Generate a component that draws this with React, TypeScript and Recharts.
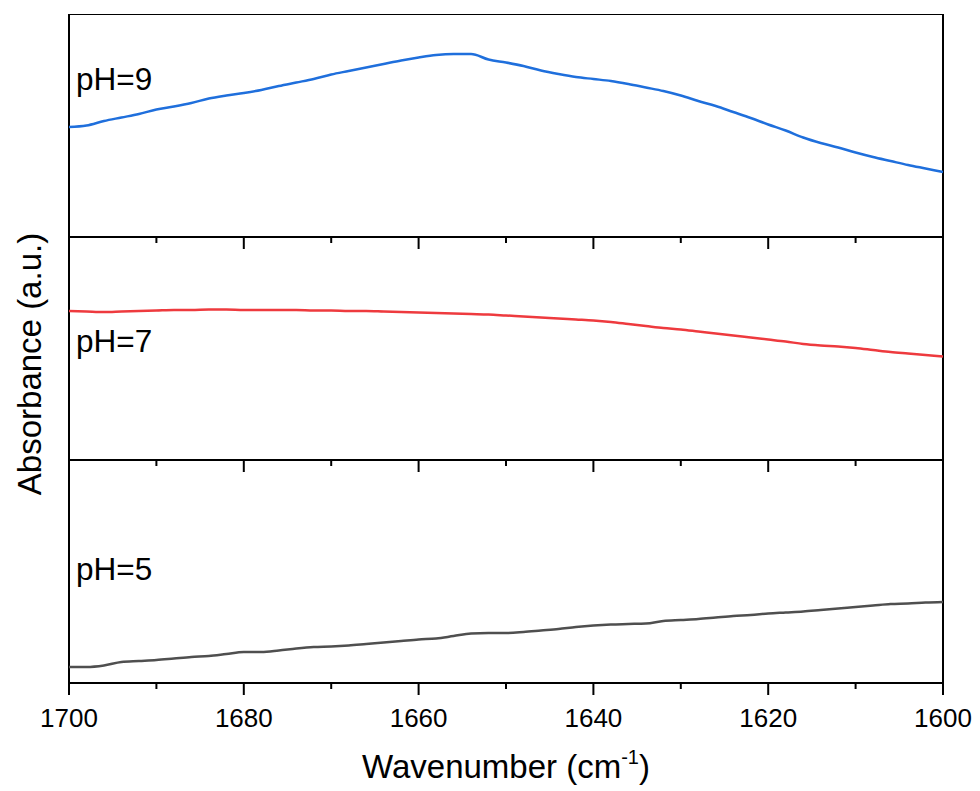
import React from 'react'
import { LineChart, Line, XAxis, YAxis, ReferenceLine } from 'recharts'

// sampling grid, cm^-1
const wavenumbers = [
  1700, 1698, 1696, 1694, 1692, 1690, 1688, 1686, 1684, 1682,
  1680, 1678, 1676, 1674, 1672, 1670, 1668, 1666, 1664, 1662,
  1660, 1658, 1656, 1654, 1652, 1650, 1648, 1646, 1644, 1642,
  1640, 1638, 1636, 1634, 1632, 1630, 1628, 1626, 1624, 1622,
  1620, 1618, 1616, 1614, 1612, 1610, 1608, 1606, 1604, 1602, 1600,
]

// absorbance (mA.U.), each trace offset inside its own panel
const ph9 = [
  110, 111.5, 116, 119.5, 123, 127.5, 130.5, 134, 138.5, 141.5,
  144, 147, 151, 154.5, 158, 162.5, 166, 169.5, 173, 176.5,
  179.5, 182, 183, 183, 177.5, 174.5, 171, 166.5, 163, 160,
  158, 156, 153, 149.5, 146, 141.5, 136, 131, 125, 119,
  112.5, 106.5, 99.5, 94, 89.5, 84.5, 80, 76, 72, 68.5, 65,
]
const ph7 = [
  149, 148.5, 148, 148.5, 149, 149.5, 150, 150, 150.5, 150.5,
  150, 150, 150, 150, 149.5, 149.5, 149, 149, 148.5, 148,
  147.5, 147, 146.5, 146, 145.5, 144.5, 143.5, 142.5, 141.5, 140.5,
  139.5, 138, 136, 134, 132, 130.5, 128.5, 126.5, 124.5, 122.5,
  120.5, 118.5, 116, 114.5, 113.5, 112, 110, 108, 106.5, 105, 103.5,
]
const ph5 = [
  16, 16, 17.5, 21, 22, 23, 24.5, 26, 27, 29,
  31, 31, 32.5, 34.5, 36, 36.5, 37.5, 39, 40.5, 42,
  43.5, 44.5, 47, 49.5, 50, 50, 51, 52.5, 54, 56,
  57.5, 58.5, 59, 59.5, 62, 63, 64, 65.5, 67, 68,
  69.5, 70.5, 71.5, 73, 74.5, 76, 77.5, 79, 79.5, 80.5, 81,
]

const xTicks = [1600, 1610, 1620, 1630, 1640, 1650, 1660, 1670, 1680, 1690, 1700]
const xDomain = [1600, 1700]
const yDomain = [0, 223]

const FONT = '"Liberation Sans", Arial, sans-serif'
const W = 980
const PANEL_H = 223
const LEFT = 69
const RIGHT = 37

const panels = [
  { label: 'pH=9', values: ph9, color: '#1f6fdc', top: 14, labelY: 90 },
  { label: 'pH=7', values: ph7, color: '#ee3a3e', top: 237, labelY: 352 },
  { label: 'pH=5', values: ph5, color: '#4f4f4f', top: 460, labelY: 580 },
]

// outward tick marks: long at every 20, short in between
function WaveTick(props: any) {
  const { x, y, payload, showLabel } = props
  const major = payload.value % 20 === 0
  return (
    <g>
      <line x1={x} x2={x} y1={y} y2={y + (major ? 12 : 6)} stroke="#000" strokeWidth={2} />
      {showLabel && major && (
        <text x={x} y={y + 44} textAnchor="middle" fontSize={26} fill="#000" fontFamily={FONT}>
          {payload.value}
        </text>
      )}
    </g>
  )
}

function Panel({ values, color, top, last }: any) {
  const data = wavenumbers.map((wn, i) => ({ wn, v: values[i] }))
  const frame = { stroke: '#000', strokeWidth: 2 }
  return (
    <div style={{ position: 'absolute', left: 0, top: top }}>
      <LineChart
        width={W}
        height={PANEL_H + (last ? 60 : 20)}
        data={data}
        margin={{ top: 0, right: RIGHT, left: LEFT, bottom: 0 }}
        style={{ overflow: 'visible' }}
      >
        {/* panel box */}
        <ReferenceLine x={xDomain[1]} {...frame} />
        <ReferenceLine x={xDomain[0]} {...frame} />
        <ReferenceLine y={yDomain[1]} {...frame} />
        <XAxis
          type="number"
          dataKey="wn"
          domain={xDomain}
          reversed
          ticks={xTicks}
          interval={0}
          height={last ? 60 : 20}
          tickSize={0}
          tickMargin={0}
          axisLine={frame}
          tick={<WaveTick showLabel={last} />}
        />
        <YAxis domain={yDomain} width={0} tick={false} tickLine={false} axisLine={frame} />
        <Line
          type="monotone"
          dataKey="v"
          stroke={color}
          strokeWidth={2.5}
          dot={false}
          isAnimationActive={false}
        />
      </LineChart>
    </div>
  )
}

export default function App() {
  return (
    <div style={{ position: 'absolute', left: 0, top: 0, width: W, height: 791, background: '#fff' }}>
      {panels.map((p, i) => (
        <Panel key={p.label} values={p.values} color={p.color} top={p.top} last={i === panels.length - 1} />
      ))}
      <svg
        width={W}
        height={791}
        style={{ position: 'absolute', left: 0, top: 0, pointerEvents: 'none' }}
        fontFamily={FONT}
      >
        {panels.map((p) => (
          <text key={p.label} x={76} y={p.labelY} fontSize={31.5} fill="#000">
            {p.label}
          </text>
        ))}
        <text x={506} y={778} textAnchor="middle" fontSize={33} fill="#000">
          Wavenumber (cm<tspan fontSize={20} dy={-14}>-1</tspan>
          <tspan dy={14}>)</tspan>
        </text>
        <text
          x={0}
          y={0}
          transform="translate(41, 364) rotate(-90)"
          textAnchor="middle"
          fontSize={33}
          fill="#000"
        >
          Absorbance (a.u.)
        </text>
      </svg>
    </div>
  )
}
